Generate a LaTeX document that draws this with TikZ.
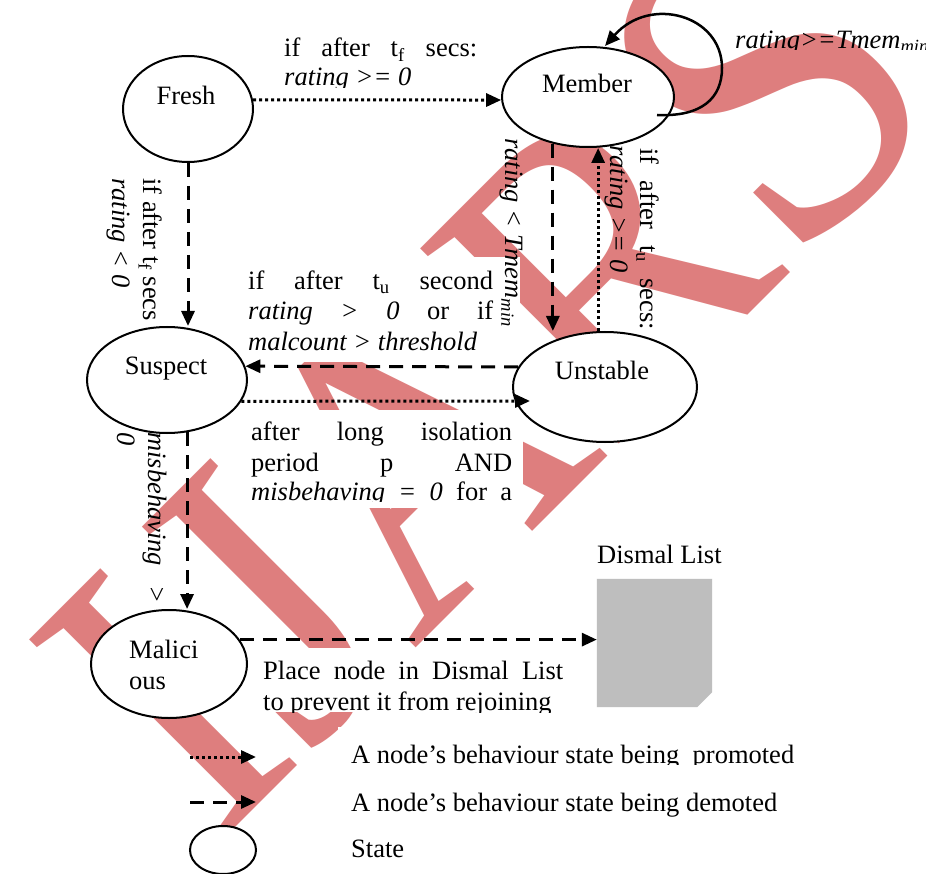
\documentclass[tikz,border=0pt]{standalone}
\usepackage{fontspec}
\setmainfont{Liberation Serif}
\newfontfamily\wmfont[FakeStretch=0.905]{Liberation Serif}
\usetikzlibrary{arrows.meta,shapes.geometric,calc}
\definecolor{wmred}{RGB}{222,126,126}
\definecolor{listgray}{RGB}{190,190,190}
\begin{document}
\begin{tikzpicture}[x=1pt,y=-1pt,
  every node/.style={inner sep=0pt, font=\fontsize{26.5}{30.5}\selectfont},
  stateell/.style={ellipse, draw, line width=2pt, fill=white},
  arrowtip/.style={-{Triangle[length=15pt,width=13pt]}},
  demote/.style={arrowtip, line width=3pt, dash pattern=on 14pt off 9pt},
  promote/.style={arrowtip, line width=3pt, dash pattern=on 3pt off 3pt},
  loopline/.style={arrowtip, line width=2.5pt},
  txt/.style={anchor=base west},
  vtxt/.style={anchor=base west, rotate=-90},
  wm/.style={anchor=base west, rotate=45, text=wmred},
]
\useasboundingbox (0,0) rectangle (926,874);
\clip (0,0) rectangle (926,874);
\fill[white] (0,0) rectangle (926,874);

% watermark
\node[wm, font=\wmfont\fontsize{425}{425}\selectfont] (wmark) at (216.5,846.5) {IJAR};
\node[wm, font=\wmfont\fontsize{467}{467}\selectfont] (wmarks) at (wmark.base east) {S};

% white text-box backgrounds
\fill[white] (245,257) rectangle (520,362);
\fill[white] (248,410) rectangle (523,508);
\fill[white] (255,648) rectangle (570,712);
\fill[white] (338,727) rectangle (926,874);

% states
\node[stateell, minimum width=130pt, minimum height=106pt] (fresh) at (188,109) {};
\node[stateell, minimum width=172pt, minimum height=100pt] (member) at (588,97) {};
\node[stateell, minimum width=160pt, minimum height=106pt] (suspect) at (167,380) {};
\node[stateell, minimum width=184pt, minimum height=110pt] (unstable) at (605,387) {};
\node[stateell, minimum width=156pt, minimum height=108pt] (malicious) at (169,664) {};
\node[stateell, minimum width=66pt, minimum height=48pt] (legstate) at (223,850) {};

\node[anchor=base] (freshlbl) at (186,105) {Fresh};
\node[anchor=base] (memberlbl) at (587,93) {Member};
\node[anchor=base] (suspectlbl) at (166,374) {Suspect};
\node[anchor=base] (unstablelbl) at (602,380) {Unstable};
\node[txt] (mallbla) at (129,658) {Malici};
\node[txt] (mallblb) at (129,689) {ous};

% dismal list
\node[minimum width=115pt, minimum height=128pt] (dismal) at (654.5,643) {};
\fill[listgray] (dismal.north west) -- (dismal.north east) -- ([yshift=15pt]dismal.south east) -- ([xshift=-15pt]dismal.south east) -- (dismal.south west) -- cycle;
\node[txt] (dismallbl) at (597,563) {Dismal List};

% connectors
\draw[promote] (fresh.8) -- (member.182);
\draw[demote] (fresh.south) -- (fresh.south |- suspect.north);
\draw[demote] (suspect.-69) -- (suspect.-69 |- malicious.north);
\draw[demote] (member.-127) -- (member.-127 |- unstable.north);
\draw[promote] (unstable.97) -- (unstable.97 |- member.south);
\draw[demote] (unstable.167) -- (suspect.10);
\coordinate (sutip) at ($(unstable.west)+(18,14)$);
\draw[promote] (suspect.-16) -- (sutip);
\draw[demote] (malicious.19) -- (malicious.19 -| dismal.west);

\coordinate (loopS) at ($(member.center)+(69,18)$);
\coordinate (loopM) at ($(member.center)+(134,-29)$);
\coordinate (loopE) at ($(member.center)+(17,-51)$);
\draw[loopline] (loopS) .. controls +(45,2) and +(0,30) .. (loopM) .. controls +(0,-53) and +(45,-51) .. (loopE);

% legend arrows
\coordinate (legpa) at (190,757);
\coordinate (legpb) at (256,757);
\draw[promote] (legpa) -- (legpb);
\coordinate (legda) at (190,802);
\coordinate (legdb) at (256,802);
\draw[demote] (legda) -- (legdb);

% Fresh -> Member label
\node[txt] (labfma) at (284,57) {\makebox[193pt][s]{if after t\textsubscript{f} secs:}};
\begin{scope}
\clip (280,60) rectangle (480,88);
\node[txt] (labfmb) at (284,86) {\textit{rating >= 0}};
\end{scope}

% self loop label
\begin{scope}
\clip (730,0) rectangle (926,50);
\node[txt] (lablooop) at (735,49) {\textit{rating>=Tmem\textsubscript{min}}};
\end{scope}

% Unstable -> Suspect label
\node[txt] (labusa) at (248,290) {\makebox[245pt][s]{if after t\textsubscript{u} second}};
\node[txt] (labusb) at (248,320) {\makebox[245pt][s]{\textit{rating > 0} or if}};
\node[txt] (labusc) at (248,351) {\textit{malcount > threshold}};

% Suspect -> Unstable label
\node[txt] (labsua) at (251,440) {\makebox[261pt][s]{after long isolation}};
\node[txt] (labsub) at (251,471) {\makebox[261pt][s]{period p AND}};
\begin{scope}
\clip (245,480) rectangle (530,501.5);
\node[txt] (labsuc) at (251,500) {\makebox[261pt][s]{\textit{misbehaving = 0} for a}};
\end{scope}

% Malicious -> Dismal label
\node[txt] (labmda) at (263,679) {\makebox[300pt][s]{Place node in Dismal List}};
\begin{scope}
\clip (255,685) rectangle (570,712);
\node[txt] (labmdb) at (263,710) {to prevent it from rejoining};
\end{scope}

% vertical labels
\node[vtxt] (labfsa) at (143,178) {if after t\textsubscript{f} secs};
\node[vtxt] (labfsb) at (112,178) {\textit{rating < 0}};
\node[vtxt] (labsma) at (148,432) {\makebox[171pt][s]{\textit{misbehaving >}}};
\node[vtxt] (labsmb) at (117,432) {\textit{0}};
\node[vtxt] (labmu) at (505,138) {\textit{rating < Tmem\textsubscript{min}}};
\node[vtxt] (labuma) at (640,148) {\makebox[182pt][s]{if after t\textsubscript{u} secs:}};
\node[vtxt] (labumb) at (610,145) {\textit{rating >= 0}};

% legend texts
\begin{scope}
\clip (345,730) rectangle (926,764);
\node[txt] (legpt) at (351,763) {A node’s behaviour state being\ \ promoted};
\end{scope}
\node[txt] (legdt) at (351,811) {A node’s behaviour state being demoted};
\node[txt] (legst) at (351,857) {State};
\end{tikzpicture}
\end{document}
